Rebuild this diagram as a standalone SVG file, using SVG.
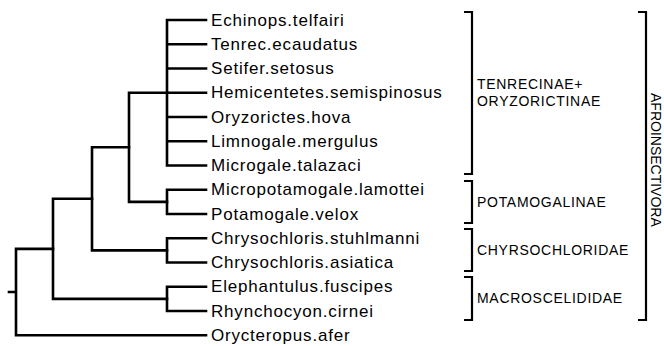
<svg xmlns="http://www.w3.org/2000/svg" width="664" height="346" viewBox="0 0 664 346">
<style>
.e{fill:none;stroke:#000;stroke-width:2.6;stroke-linecap:square;stroke-linejoin:miter}
.b{fill:none;stroke:#000;stroke-width:2.2;stroke-linejoin:miter}
.t{font-family:"Liberation Sans",Arial,sans-serif;font-size:17px;letter-spacing:0.8px;fill:#000}
.g{font-family:"Liberation Sans",Arial,sans-serif;font-size:14px;letter-spacing:0.7px;fill:#000}
</style>
<rect width="664" height="346" fill="#fff"/>
<g id="connectors">
<path class="e" d="M167,20V165.5M167,20H206M167,44.25H206M167,68.5H206M167,92.75H206M167,117H206M167,141.25H206M167,165.5H206"/>
<path class="e" d="M167,189.75V214M167,189.75H206M167,214H206"/>
<path class="e" d="M129,92.75V201.9M129,92.75H167M129,201.9H167"/>
<path class="e" d="M167,238.25V262.5M167,238.25H206M167,262.5H206"/>
<path class="e" d="M92,147.3V250.4M92,147.3H129M92,250.4H167"/>
<path class="e" d="M167,286.75V311M167,286.75H206M167,311H206"/>
<path class="e" d="M53,198.8V298.9M53,198.8H92M53,298.9H167"/>
<path class="e" d="M16,248.9V335.25M16,248.9H53M16,335.25H206M9,292H16"/>
</g>
<g id="tips">
<text class="t" x="211" y="25.5">Echinops.telfairi</text>
<text class="t" x="211" y="49.75">Tenrec.ecaudatus</text>
<text class="t" x="211" y="74">Setifer.setosus</text>
<text class="t" x="211" y="98.25">Hemicentetes.semispinosus</text>
<text class="t" x="211" y="122.5">Oryzorictes.hova</text>
<text class="t" x="211" y="146.75">Limnogale.mergulus</text>
<text class="t" x="211" y="171">Microgale.talazaci</text>
<text class="t" x="211" y="195.25">Micropotamogale.lamottei</text>
<text class="t" x="211" y="219.5">Potamogale.velox</text>
<text class="t" x="211" y="243.75">Chrysochloris.stuhlmanni</text>
<text class="t" x="211" y="268">Chrysochloris.asiatica</text>
<text class="t" x="211" y="292.25">Elephantulus.fuscipes</text>
<text class="t" x="211" y="316.5">Rhynchocyon.cirnei</text>
<text class="t" x="211" y="340.75">Orycteropus.afer</text>
</g>
<g id="tenrecinae">
<path class="b" d="M464,12H472V174H464"/>
<text class="g" x="477" y="89">TENRECINAE+</text>
<text class="g" x="477" y="106">ORYZORICTINAE</text>
</g>
<g id="potamogalinae">
<path class="b" d="M464,181H472V223H464"/>
<text class="g" x="477" y="207">POTAMOGALINAE</text>
</g>
<g id="chrysochloridae">
<path class="b" d="M464,229H472V271H464"/>
<text class="g" x="477" y="255">CHYRSOCHLORIDAE</text>
</g>
<g id="macroscelididae">
<path class="b" d="M464,277H472V320H464"/>
<text class="g" x="477" y="303">MACROSCELIDIDAE</text>
</g>
<g id="afroinsectivora">
<path class="b" d="M638,12H646V320H638"/>
<text class="g" style="letter-spacing:0" transform="translate(651,93) rotate(90)">AFROINSECTIVORA</text>
</g>
</svg>
